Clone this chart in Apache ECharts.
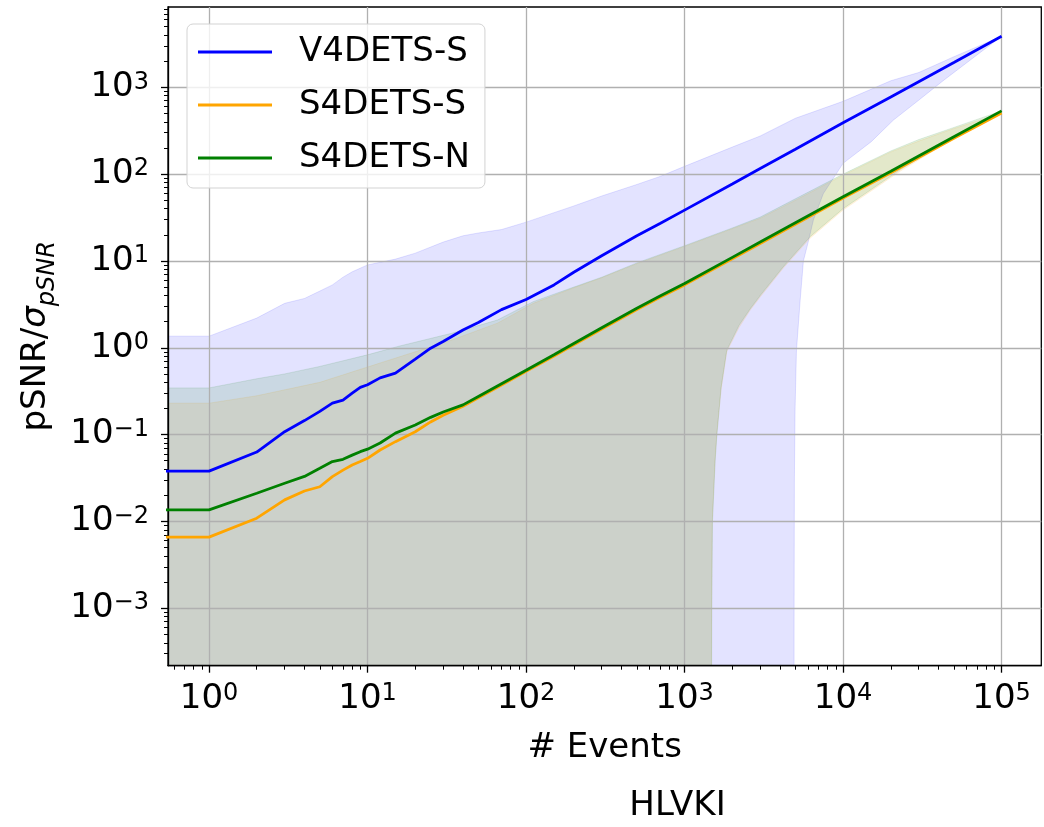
<!DOCTYPE html>
<html><head><meta charset="utf-8">
<script src="https://cdn.jsdelivr.net/npm/echarts@6/dist/echarts.min.js"></script>
<style>html,body{margin:0;padding:0;background:#fff}#c{width:1044px;height:827px}</style>
</head><body><div id="c"></div>
<script>
// ---------------- data ----------------
const seriesNames = ['V4DETS-S', 'S4DETS-S', 'S4DETS-N'];
const seriesColors = ['#0000ff', '#ffa500', '#008000'];

// number of events (x) shared by the three mean curves
const eventsX = [0.5, 1, 2, 3, 4, 5, 6, 7, 8, 9, 10, 12, 15, 20, 25, 30, 40, 50, 70, 100, 150, 200, 300, 500, 700, 1000, 2000, 3000, 5000, 10000, 20000, 50000, 100000];
const v4detsS_mean = [0.038, 0.038, 0.063, 0.108, 0.145, 0.185, 0.23, 0.25, 0.30, 0.35, 0.375, 0.45, 0.51, 0.74, 0.99, 1.18, 1.6, 1.95, 2.75, 3.6, 5.3, 7.4, 11.5, 19.5, 27, 38.5, 77, 116, 193, 390, 775, 1930, 3870];
const s4detsS_mean = [0.0066, 0.0066, 0.0109, 0.0177, 0.0224, 0.0251, 0.0328, 0.039, 0.0447, 0.0489, 0.0533, 0.0665, 0.083, 0.108, 0.14, 0.167, 0.212, 0.265, 0.373, 0.535, 0.805, 1.08, 1.64, 2.75, 3.82, 5.3, 10.6, 15.9, 26.5, 53, 104, 258, 505];
const s4detsN_mean = [0.0136, 0.0136, 0.0211, 0.0275, 0.033, 0.041, 0.049, 0.052, 0.058, 0.0636, 0.068, 0.08, 0.104, 0.129, 0.158, 0.182, 0.22, 0.275, 0.385, 0.55, 0.83, 1.12, 1.7, 2.85, 3.95, 5.5, 11, 16.5, 27.5, 55, 108, 270, 535];

// ±σ bands (lower values of 1e-6 stand for bounds that are <= 0, i.e. off the log axis)
const v4detsS_upperX = [0.5, 1, 2, 3, 4, 5, 6, 7, 8, 10, 15, 20, 30, 40, 50, 70, 100, 150, 200, 300, 500, 700, 1000, 2000, 3000, 5000, 10000, 20000, 30000, 50000, 100000];
const v4detsS_upper  = [1.36, 1.36, 2.2, 3.25, 3.7, 4.5, 5.3, 6.5, 7.5, 9, 10.5, 12.3, 16.5, 19.5, 21, 23, 28, 36, 43, 56, 76, 94, 123, 205, 275, 440, 690, 1190, 1480, 2250, 3870];
const v4detsS_lowerX = [0.5, 4900, 4910, 4930, 4980, 5080, 5360, 5620, 6000, 6500, 7500, 10000, 15000, 20800, 30000, 43000, 70000, 100000];
const v4detsS_lower  = [1e-6, 1e-6, 0.001, 0.03, 0.2, 0.93, 3.5, 10, 16, 29.7, 59.5, 133, 235, 420, 710, 1200, 2360, 3870];

const s4detsS_upperX = [0.5, 1, 2, 5, 10, 20, 34, 66, 111, 200, 300, 500, 1000, 2000, 3000, 5000, 10000, 20000, 30000, 50000, 100000];
const s4detsS_upper  = [0.23, 0.23, 0.28, 0.4, 0.6, 0.9, 1.23, 1.92, 3.25, 4.9, 6.4, 9.3, 14.7, 23.5, 31, 50, 97, 180, 240, 335, 505];
const s4detsS_lowerX = [0.5, 1465, 1480, 1495, 1555, 1595, 1700, 1846, 2200, 2590, 3000, 4200, 6190, 10000, 22900, 54700, 100000];
const s4detsS_lower  = [1e-6, 1e-6, 0.001, 0.01, 0.05, 0.1, 0.33, 0.9, 1.7, 2.7, 3.85, 8.3, 18.3, 38.5, 108, 285, 505];

const s4detsN_upperX = [0.5, 1, 2, 3, 5, 10, 16, 34, 66, 111, 200, 300, 500, 1000, 2000, 3000, 5000, 10000, 20000, 30000, 50000, 100000];
const s4detsN_upper  = [0.345, 0.345, 0.44, 0.5, 0.61, 0.83, 1.05, 1.47, 2.09, 3.4, 5.0, 6.5, 9.5, 15, 24, 32, 52, 100, 185, 250, 345, 535];
const s4detsN_lowerX = [0.5, 1470, 1485, 1500, 1560, 1600, 1700, 1846, 2200, 2590, 3000, 4200, 6190, 10000, 22900, 54700, 100000];
const s4detsN_lower  = [1e-6, 1e-6, 0.001, 0.01, 0.05, 0.1, 0.35, 0.94, 1.8, 2.8, 4.0, 8.6, 19, 40, 112, 295, 535];

// axis ticks
const xTicks = [1, 10, 100, 1000, 10000, 100000];
const yTicks = [1e-3, 1e-2, 1e-1, 1, 10, 100, 1000];
const xRange = [0.551, 178000];
const yRange = [2.18e-4, 8410];

// ---------------- chart ----------------
const FONT = 'DejaVu Sans';
function minorTicks(range) {
  const out = [];
  for (let e = -5; e <= 6; e++) {
    for (let m = 2; m <= 9; m++) {
      const v = m * Math.pow(10, e);
      if (v > range[0] && v < range[1]) out.push(v);
    }
  }
  return out;
}
function powLabel(v) {
  const e = Math.round(Math.log10(v));
  return '{b|10}{s|' + (e < 0 ? '\u2212' + (-e) : e) + '}';
}
const labelRich = {
  b: { fontFamily: FONT, fontSize: 34, lineHeight: 34, color: '#000' },
  s: { fontFamily: FONT, fontSize: 24, lineHeight: 20, verticalAlign: 'top', color: '#000' }
};
const tickLine = { color: '#000', width: 1.3 };

function band(name, color, upX, up, lowX, low) {
  return {
    type: 'custom', name: name, z: 1, silent: true, animation: false,
    data: [[upX[0], up[0]]],
    renderItem: function (params, api) {
      const pts = [];
      for (let i = 0; i < up.length; i++) pts.push(api.coord([upX[i], up[i]]));
      for (let i = low.length - 1; i >= 0; i--) pts.push(api.coord([lowX[i], low[i]]));
      const cs = params.coordSys;
      return {
        type: 'polygon',
        shape: { points: pts },
        style: { fill: color, stroke: color, lineWidth: 1 },
        clipPath: { type: 'rect', shape: { x: cs.x, y: cs.y, width: cs.width, height: cs.height } }
      };
    }
  };
}
function meanLine(name, color, ys) {
  return {
    type: 'line', name: name, z: 3, symbol: 'none', showSymbol: false, clip: true, animation: false,
    data: eventsX.map(function (x, i) { return [x, ys[i]]; }),
    lineStyle: { color: color, width: 2.8 }, itemStyle: { color: color }
  };
}

const chart = echarts.init(document.getElementById('c'), null, { renderer: 'canvas' });
chart.setOption({
  animation: false,
  backgroundColor: '#fff',
  grid: { left: 168, right: 2.7, top: 7, bottom: 161.3, show: true, borderColor: '#000', borderWidth: 1.3, containLabel: false },
  legend: {
    data: seriesNames, orient: 'vertical', left: 187, top: 24,
    icon: 'rect', itemWidth: 74, itemHeight: 3, itemGap: 13,
    padding: [8, 15, 10, 11],
    backgroundColor: 'rgba(255,255,255,0.8)', borderColor: '#d3d3d3', borderWidth: 1, borderRadius: 6,
    textStyle: { fontFamily: FONT, fontSize: 34, lineHeight: 40, color: '#000', padding: [0, 0, 0, 22] }
  },
  xAxis: [{
    type: 'log', logBase: 10, min: xRange[0], max: xRange[1], z: 2,
    name: '# Events', nameLocation: 'middle', nameGap: 65,
    nameTextStyle: { fontFamily: FONT, fontSize: 34, lineHeight: 34, color: '#000' },
    axisLine: { show: true, onZero: false, lineStyle: tickLine },
    axisTick: { show: true, length: 7, customValues: xTicks, lineStyle: tickLine },
    axisLabel: { customValues: xTicks, margin: 16, formatter: powLabel, rich: labelRich },
    splitLine: { show: true, lineStyle: { color: '#b0b0b0', width: 1.3 } }
  }, {
    type: 'log', logBase: 10, min: xRange[0], max: xRange[1], position: 'bottom', z: 2,
    axisLine: { show: false },
    axisTick: { show: true, length: 4, customValues: minorTicks(xRange), lineStyle: { color: '#000', width: 1 } },
    axisLabel: { show: false }, splitLine: { show: false }
  }],
  yAxis: [{
    type: 'log', logBase: 10, min: yRange[0], max: yRange[1], z: 2,
    name: '{a|pSNR/}{i|\u03c3}{sub|pSNR}', nameLocation: 'middle', nameGap: 105, nameRotate: 90,
    nameTextStyle: {
      rich: {
        a: { fontFamily: FONT, fontSize: 34, lineHeight: 46, color: '#000' },
        i: { fontFamily: FONT, fontSize: 34, lineHeight: 46, fontStyle: 'italic', color: '#000' },
        sub: { fontFamily: FONT, fontSize: 24, lineHeight: 30, fontStyle: 'italic', verticalAlign: 'bottom', color: '#000' }
      }
    },
    axisLine: { show: true, onZero: false, lineStyle: tickLine },
    axisTick: { show: true, length: 7, customValues: yTicks, lineStyle: tickLine },
    axisLabel: { customValues: yTicks, margin: 19, formatter: powLabel, rich: labelRich },
    splitLine: { show: true, lineStyle: { color: '#b0b0b0', width: 1.3 } }
  }, {
    type: 'log', logBase: 10, min: yRange[0], max: yRange[1], position: 'left', z: 2,
    axisLine: { show: false },
    axisTick: { show: true, length: 4, customValues: minorTicks(yRange), lineStyle: { color: '#000', width: 1 } },
    axisLabel: { show: false }, splitLine: { show: false }
  }],
  graphic: [{
    type: 'text', x: 677.5, y: 806, z: 10,
    style: { text: 'HLVKI', fontFamily: FONT, fontSize: 34, fill: '#000', align: 'center', verticalAlign: 'middle' }
  }],
  series: [
    band('V4DETS-S band', 'rgba(0,0,255,0.11)', v4detsS_upperX, v4detsS_upper, v4detsS_lowerX, v4detsS_lower),
    band('S4DETS-S band', 'rgba(255,165,0,0.11)', s4detsS_upperX, s4detsS_upper, s4detsS_lowerX, s4detsS_lower),
    band('S4DETS-N band', 'rgba(0,128,0,0.11)', s4detsN_upperX, s4detsN_upper, s4detsN_lowerX, s4detsN_lower),
    meanLine(seriesNames[0], seriesColors[0], v4detsS_mean),
    meanLine(seriesNames[1], seriesColors[1], s4detsS_mean),
    meanLine(seriesNames[2], seriesColors[2], s4detsN_mean)
  ]
});
</script>
</body></html>
